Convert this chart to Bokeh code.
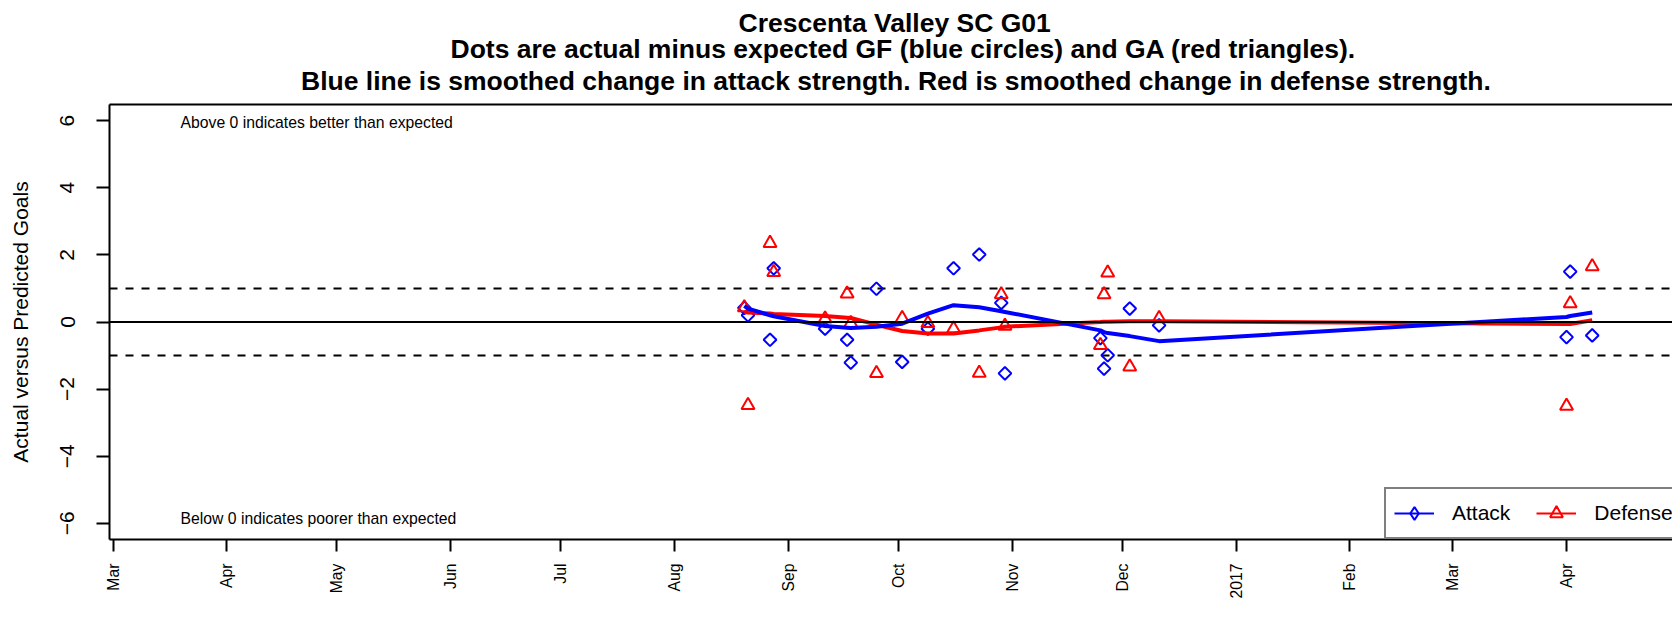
import math
import numpy as np
import pandas as pd
from datetime import datetime, timedelta
from bokeh.plotting import figure
from bokeh.models import (Range1d, FixedTicker, LinearAxis, Span, Label, Legend,
                          LegendItem, ColumnDataSource, Title)
from bokeh.embed import file_html
from bokeh.resources import INLINE

# ---------------- data ----------------
game_dates = ["2016-08-20", "2016-08-21", "2016-08-27", "2016-08-28", "2016-09-11",
              "2016-09-17", "2016-09-18", "2016-09-25", "2016-10-02", "2016-10-09",
              "2016-10-16", "2016-10-23", "2016-10-29", "2016-10-30", "2016-11-25",
              "2016-11-26", "2016-11-27", "2016-12-03", "2016-12-11", "2017-04-01",
              "2017-04-02", "2017-04-08"]
attack_resid = [0.42, 0.20, -0.53, 1.60, -0.20, -0.53, -1.21, 0.99, -1.19, -0.20,
                1.60, 2.01, 0.57, -1.53, -0.48, -1.39, -0.99, 0.40, -0.10, -0.45,
                1.50, -0.40]
defense_resid = [0.43, -2.48, 2.35, 1.48, 0.10, 0.84, -0.04, -1.53, 0.11, -0.04,
                 -0.20, -1.52, 0.82, -0.12, -0.69, 0.82, 1.47, -1.33, 0.11, -2.50,
                 0.55, 1.65]
attack_smooth = [0.48, 0.40, 0.20, 0.17, -0.12, -0.17, -0.18, -0.14, -0.05, 0.25,
                 0.50, 0.44, 0.32, 0.30, -0.25, -0.30, -0.33, -0.42, -0.57, 0.15,
                 0.18, 0.28]
defense_smooth = [0.30, 0.28, 0.25, 0.24, 0.18, 0.13, 0.12, -0.08, -0.27, -0.34,
                  -0.34, -0.25, -0.16, -0.14, 0.00, 0.01, 0.01, 0.02, 0.02, -0.06,
                  -0.06, 0.05]
tick_dates = ["2016-03-01", "2016-04-01", "2016-05-01", "2016-06-01", "2016-07-01",
              "2016-08-01", "2016-09-01", "2016-10-01", "2016-11-01", "2016-12-01",
              "2017-01-01", "2017-02-01", "2017-03-01", "2017-04-01"]
tick_labels = ["Mar", "Apr", "May", "Jun", "Jul", "Aug", "Sep", "Oct", "Nov", "Dec",
               "2017", "Feb", "Mar", "Apr"]
y_ticks = [-6, -4, -2, 0, 2, 4, 6]
y_tick_labels = ["\u22126", "\u22124", "\u22122", "0", "2", "4", "6"]
title_lines = ["Crescenta Valley SC G01",
               "Dots are actual minus expected GF (blue circles) and GA (red triangles).",
               "Blue line is smoothed change in attack strength. Red is smoothed change in defense strength."]

FONT = "Liberation Sans"
BLUE = "#0000FF"
RED = "#FF0000"

def ms(d):
    return int(pd.Timestamp(d).value // 10**6)

src = ColumnDataSource(dict(
    date=pd.to_datetime(game_dates),
    attack=attack_resid,
    defense=defense_resid,
    attack_s=attack_smooth,
    defense_s=defense_smooth,
))

origin = datetime(2016, 3, 1)
x_range = Range1d(start=origin - timedelta(days=0.954), end=origin + timedelta(days=424.87))
y_range = Range1d(-6.48, 6.48)

p = figure(width=1672, height=617, x_axis_type="datetime",
           x_range=x_range, y_range=y_range,
           output_backend="svg", toolbar_location=None,
           min_border_left=109, min_border_top=104, min_border_bottom=78,
           min_border_right=0, outline_line_color=None,
           background_fill_color="white", border_fill_color="white")
p.title.visible = False
p.xgrid.visible = False
p.ygrid.visible = False

# ---- x axis ----
xa = p.xaxis[0]
tick_ms = [ms(d) for d in tick_dates]
xa.ticker = FixedTicker(ticks=tick_ms)
xa.major_label_overrides = {t: lab for t, lab in zip(tick_ms, tick_labels)}
xa.major_label_orientation = math.pi / 2
xa.major_label_text_font = FONT
xa.major_label_text_font_size = "15.75px"
xa.major_label_text_color = "black"
xa.major_label_standoff = 12
xa.major_tick_out = 12
xa.major_tick_in = 0
xa.minor_tick_out = 0
xa.minor_tick_in = 0
xa.major_tick_line_width = 2
xa.axis_line_width = 2
xa.axis_line_color = "black"
xa.major_tick_line_color = "black"

# ---- y axis ----
ya = p.yaxis[0]
ya.ticker = FixedTicker(ticks=y_ticks)
ya.major_label_overrides = {t: lab for t, lab in zip(y_ticks, y_tick_labels)}
ya.major_label_orientation = "parallel"
ya.major_label_text_font = FONT
ya.major_label_text_font_size = "21px"
ya.major_label_text_color = "black"
ya.major_label_standoff = 22
ya.major_tick_out = 13
ya.major_tick_in = 0
ya.minor_tick_out = 0
ya.minor_tick_in = 0
ya.major_tick_line_width = 2
ya.axis_line_width = 2
ya.axis_line_color = "black"
ya.axis_label = "Actual versus Predicted Goals"
ya.axis_label_text_font = FONT
ya.axis_label_text_font_size = "21px"
ya.axis_label_text_font_style = "normal"
ya.axis_label_text_color = "black"
ya.axis_label_standoff = 26

# top border line
top = LinearAxis(ticker=FixedTicker(ticks=[]), axis_line_width=2, axis_line_color="black",
                 major_tick_out=0, major_tick_in=0, minor_tick_out=0, minor_tick_in=0)
p.add_layout(top, "above")

# title lines: added from the frame outward (last line first)
title_offsets = [629, 341, 191.5]
title_standoffs = [7.9, -17.6, 17]
for line, off, so in reversed(list(zip(title_lines, title_offsets, title_standoffs))):
    p.add_layout(Title(text=line, align="left", offset=off, standoff=so,
                       vertical_align="bottom",
                       text_font=FONT, text_font_size="26.5px", text_font_style="bold",
                       text_color="black"), "above")

# reference lines
for loc in (1, -1):
    p.add_layout(Span(location=loc, dimension="width", line_color="black",
                      line_width=2, line_dash="8 8", level="underlay"))

# points
sa = p.scatter("date", "attack", source=src, marker="square", angle=math.pi / 4,
               size=9, fill_color=None, line_color=BLUE, line_width=2)
sd = p.scatter("date", "defense", source=src, marker="triangle",
               size=13, fill_color=None, line_color=RED, line_width=2)

# smoothed lines
p.line("date", "defense_s", source=src, line_color=RED, line_width=4)
p.add_layout(Span(location=0, dimension="width", line_color="black", line_width=2))
p.line("date", "attack_s", source=src, line_color=BLUE, line_width=4)

# legend-only glyphs (no visible data)
nan = np.array([np.nan])
la = p.line(x=nan, y=nan, line_color=BLUE, line_width=2)
lm = p.scatter(x=nan, y=nan, marker="diamond", fill_color=None, line_color=BLUE, line_width=2)
ld = p.line(x=nan, y=nan, line_color=RED, line_width=2)
lt = p.scatter(x=nan, y=nan, marker="triangle", fill_color=None, line_color=RED, line_width=2)
legend = Legend(items=[LegendItem(label="Attack", renderers=[la, lm]),
                       LegendItem(label="Defense", renderers=[ld, lt])],
                orientation="horizontal", location=(1275, 0),
                glyph_width=40, glyph_height=32, label_standoff=18, spacing=26,
                padding=8, margin=0, label_text_font=FONT, label_text_font_size="21px",
                label_text_color="black", border_line_color="black", border_line_width=2,
                background_fill_color="white", background_fill_alpha=1.0)
p.add_layout(legend, "center")

# annotations in plot
day = 86400000
p.add_layout(Label(x=ms("2016-03-01") + 18.4 * day, y=5.95, text="Above 0 indicates better than expected",
                   text_align="left", text_baseline="middle", text_font=FONT,
                   text_font_size="15.75px", text_color="black"))
p.add_layout(Label(x=ms("2016-03-01") + 18.4 * day, y=-5.85, text="Below 0 indicates poorer than expected",
                   text_align="left", text_baseline="middle", text_font=FONT,
                   text_font_size="15.75px", text_color="black"))

open("out.html", "w").write(file_html(p, INLINE))
